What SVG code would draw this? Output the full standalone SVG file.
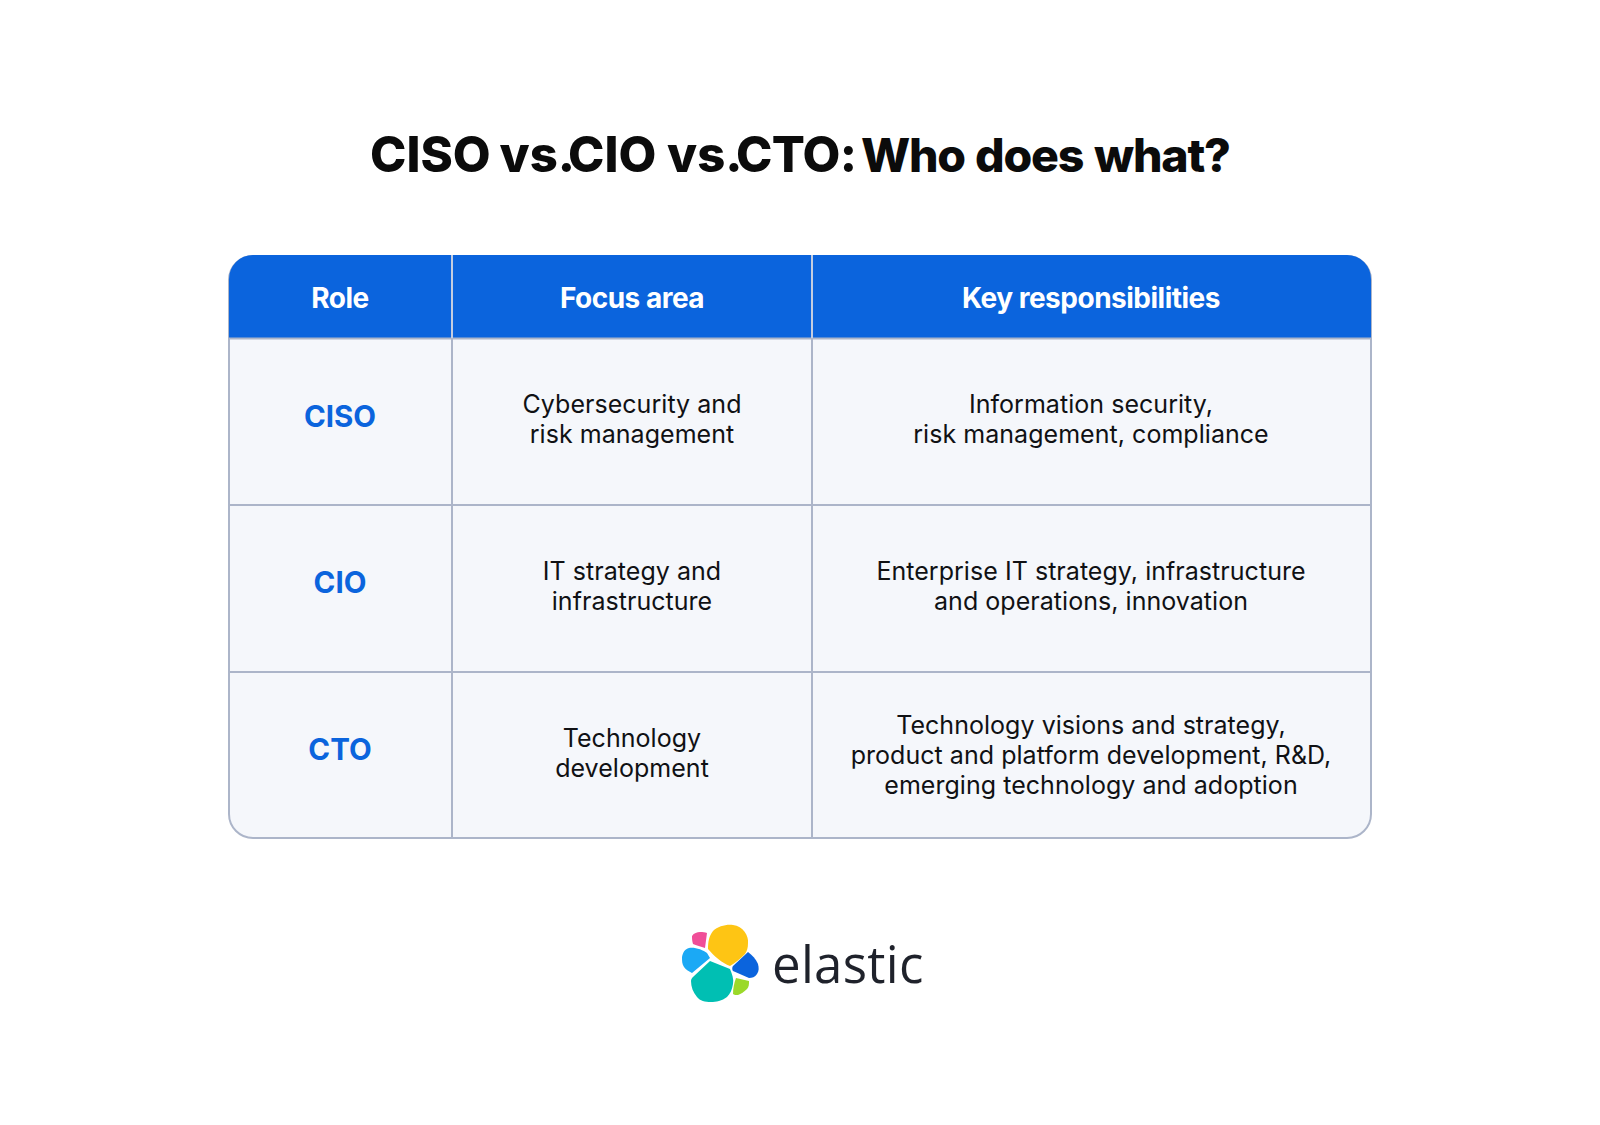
<svg xmlns="http://www.w3.org/2000/svg" width="1600" height="1125" viewBox="0 0 1600 1125">
<style>
text{font-family:Inter,"Liberation Sans",sans-serif;text-anchor:middle}
.title{font-size:49px;font-weight:800;fill:#0b0b0b;text-anchor:start;word-spacing:-14px}
.lc{font-size:46.500px;letter-spacing:-1.2px}
.vs{letter-spacing:0}
.cto{letter-spacing:-.7px}
.head{font-size:28px;font-weight:700;fill:#fff;letter-spacing:-.5px}
.role{font-size:29.500px;font-weight:700;fill:#0b64dd}
.cell{font-size:25px;fill:#101114;letter-spacing:.04px}
.line{stroke:#acb5c9;stroke-width:2;fill:none}
.hline{stroke:#c4cde0;stroke-width:2;fill:none}
.word{font-family:"Open Sans","Noto Sans",sans-serif;font-size:51px;fill:#1f222b;text-anchor:start;letter-spacing:.3px}
</style>
<rect width="1600" height="1125" fill="#fff"/>
<text class="title" y="172"><tspan x="370">CISO </tspan><tspan class="vs" x="499.500">vs. </tspan><tspan x="568">CIO </tspan><tspan class="vs" x="667">vs. </tspan><tspan class="cto" x="736">CTO: </tspan><tspan class="lc" x="861">Who </tspan><tspan class="lc" x="975">does </tspan><tspan class="lc" x="1094">what?</tspan></text>
<g id="table">
<rect x="229" y="256" width="1142" height="582" rx="24" fill="#f5f7fb" stroke="#acb5c9" stroke-width="2"/>
<path d="M229 338V279a24 24 0 0 1 24-24H1347a24 24 0 0 1 24 24V338Z" fill="#0b64dd"/>
<path class="line" d="M229 338.500H1371M229 505H1371M229 672H1371M452 338V838M812 338V838"/>
<path class="hline" d="M452 255V338M812 255V338"/>
</g>
<g id="header">
<text class="head" x="340" y="308">Role</text>
<text class="head" x="632" y="308">Focus area</text>
<text class="head" x="1091" y="308">Key responsibilities</text>
</g>
<g id="row-ciso">
<text class="role" x="340" y="427">CISO</text>
<text class="cell" x="632" y="413">Cybersecurity and</text>
<text class="cell" x="632" y="443">risk management</text>
<text class="cell" x="1091" y="413">Information security,</text>
<text class="cell" x="1091" y="443">risk management, compliance</text>
</g>
<g id="row-cio">
<text class="role" x="340" y="593">CIO</text>
<text class="cell" x="632" y="580">IT strategy and</text>
<text class="cell" x="632" y="610">infrastructure</text>
<text class="cell" x="1091" y="580">Enterprise IT strategy, infrastructure</text>
<text class="cell" x="1091" y="610">and operations, innovation</text>
</g>
<g id="row-cto">
<text class="role" x="340" y="760">CTO</text>
<text class="cell" x="632" y="746.500">Technology</text>
<text class="cell" x="632" y="776.500">development</text>
<text class="cell" x="1091" y="733.500">Technology visions and strategy,</text>
<text class="cell" x="1091" y="763.500">product and platform development, R&amp;D,</text>
<text class="cell" x="1091" y="793.500">emerging technology and adoption</text>
</g>
<g id="logo">
<path fill="#fec514" d="M708 949C708 942 709 936 713 931C718 926 727 924 733 925C743 926 749 936 748 943C748 948 747 951 745 954C741 958 735 963 730 966C722 963 714 956 708 949Z"/>
<path fill="#f04e98" d="M692 936C694 933 697 932 700 932C703 932 705 932 707 933L705 948C701 947 696 945 693 944C692 941 692 938 692 936Z"/>
<path fill="#1ba9f5" d="M682 957C683 952 685 949 689 948C695 947 703 950 707 953L710 958L692 973C689 971 686 970 684 967C682 964 682 961 682 957Z"/>
<path fill="#00bfb3" d="M710 961L730 969C732 974 734 979 733 984C732 990 730 994 727 997C722 1001 716 1002 711 1002C705 1002 700 1001 697 997C693 992 691 987 691 981C691 979 692 978 693 977Z"/>
<path fill="#0b64dd" d="M748 952C752 955 756 959 758 964C759 968 759 971 757 974C755 977 752 978 749 978L733 971C732 970 732 967 733 966Z"/>
<path fill="#9bd92a" d="M736 978L749 981C749 984 749 987 747 989C744 992 741 994 738 995C736 995 734 995 733 994C733 989 734 983 736 978Z"/>
<text class="word" x="772" y="983">elastic</text>
</g>
</svg>
